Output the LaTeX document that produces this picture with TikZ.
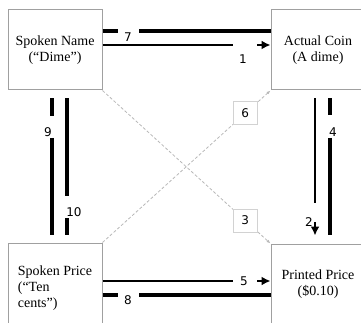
\documentclass[tikz,border=0pt]{standalone}
\usepackage{fontspec}
\setmainfont{Liberation Serif}
\newfontfamily\numfont{DejaVu Sans}
\usetikzlibrary{calc,arrows.meta}
\definecolor{boxgray}{HTML}{A0A0A0}
\definecolor{linkgray}{HTML}{B8B8B8}
\definecolor{tagframe}{HTML}{D2D2D2}
\begin{document}
\begin{tikzpicture}[x=1pt,y=-1pt,
  box/.style={draw=boxgray, line width=1pt, minimum width=94pt, minimum height=80pt,
    inner sep=0pt, font=\fontsize{14}{16}\selectfont},
  tag/.style={font=\numfont\fontsize{12}{12}\selectfont, inner sep=0pt},
  numbox/.style={tag, solid, draw=tagframe, fill=white, line width=0.7pt,
    minimum width=24pt, minimum height=23pt},
  thickline/.style={line width=4.3pt},
  thinline/.style={line width=2.6pt},
  tip/.style={line width=2.6pt, -{Latex[length=9pt,width=9pt]}},
  cross/.style={draw=linkgray, line width=0.8pt, dash pattern=on 3pt off 2pt,
    -{Latex[length=4pt,width=3pt]}}
]
\useasboundingbox (0,0) rectangle (361,323);
\clip (0,0) rectangle (361,323);

% the four boxes (the lower ones run past the bottom edge)
\node[box, align=center] (SN) at (55,50)  {Spoken Name\\(“Dime”)};
\node[box, align=center] (AC) at (318,50) {Actual Coin\\(A dime)};
\node[box, align=left, minimum height=90pt] (SP) at (55,288)
  {\fontsize{14}{15}\selectfont Spoken Price\\(“Ten\\cents”)};
\node[box, align=center] (PP) at (318,284) {Printed Price\\(\$0.10)};

% dotted diagonals with their numbered tags
\draw[cross] (SN.south east) -- (PP.north west) node[numbox, pos=0.85] (t3) {3};
\draw[cross] (SP.north east) -- (AC.south west) node[numbox, pos=0.85] (t6) {6};

% Name <-> Coin
\draw[thickline] (SN.east |- 0,31) -- ++(15,0);
\node[tag] (t7) at (128,37) {7};
\draw[thickline] (139,31) -- (AC.west |- 0,31);
\draw[thinline] (SN.east |- 0,45) -- (233,45);
\node[tag] (t1) at (243,59) {1};
\draw[tip] (257,45) -- (AC.west |- 0,45);

% Spoken Price <-> Printed Price
\draw[thinline] (SP.east |- 0,281) -- (233,281);
\node[tag] (t5) at (244,281) {5};
\draw[tip] (257,281) -- (PP.west |- 0,281);
\draw[thickline] (SP.east |- 0,295) -- ++(15,0);
\node[tag] (t8) at (128,300) {8};
\draw[thickline] (139,295) -- (PP.west |- 0,295);

% Spoken Name <-> Spoken Price
\draw[thickline] ($(SN.south)+(-3,8)$) -- (52,116);
\node[tag] (t9) at (48,132) {9};
\draw[thickline] (52,138) -- ($(SP.north)+(-3,-8)$);
\draw[thickline] ($(SN.south)+(12,8)$) -- (67,196);
\node[tag] (t10) at (74,212) {10};
\draw[thickline] (67,218) -- ($(SP.north)+(12,-8)$);

% Actual Coin <-> Printed Price
\draw[thinline] ($(AC.south)+(-3,8)$) -- (315,203);
\node[tag] (t2) at (309,222) {2};
\draw[tip] (315,222) -- ($(PP.north)+(-3,-8)$);
\draw[thickline] ($(AC.south)+(12,8)$) -- (330,115);
\node[tag] (t4) at (333,132) {4};
\draw[thickline] (330,138) -- ($(PP.north)+(12,-9)$);
\end{tikzpicture}
\end{document}
